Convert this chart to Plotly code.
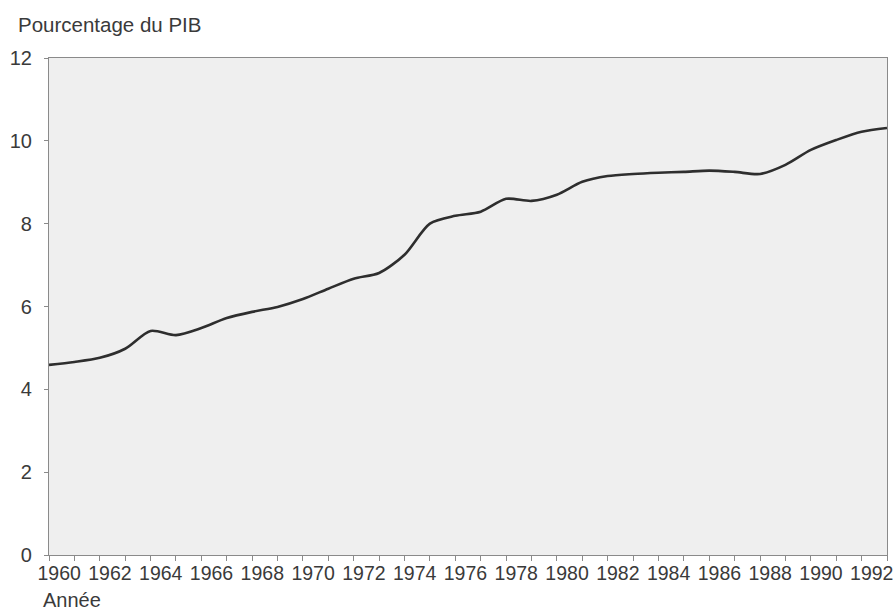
import plotly.graph_objects as go

years = list(range(1960, 1994))
pct_pib = [4.59, 4.66, 4.76, 4.98, 5.41, 5.31, 5.48, 5.72, 5.87, 5.99,
           6.18, 6.43, 6.67, 6.81, 7.25, 8.00, 8.19, 8.29, 8.60, 8.55,
           8.70, 9.01, 9.15, 9.20, 9.23, 9.25, 9.28, 9.25, 9.20, 9.42,
           9.78, 10.02, 10.22, 10.31]
label_years = list(range(1960, 1993, 2))
y_ticks = [0, 2, 4, 6, 8, 10, 12]

font_family = "Liberation Sans, Arial, sans-serif"
text_color = "#3a3a3a"

fig = go.Figure()
fig.add_trace(go.Scatter(
    x=years, y=pct_pib, mode="lines",
    line=dict(color="#2e2e2e", width=2.6, shape="spline", smoothing=0.8),
    hoverinfo="x+y", showlegend=False,
))

fig.update_layout(
    width=896, height=610,
    margin=dict(l=49, r=9, t=58, b=55),
    paper_bgcolor="white",
    plot_bgcolor="#efefef",
    font=dict(family=font_family, color=text_color, size=20),
    xaxis=dict(
        range=[1960, 1993],
        automargin=False,
        tickvals=[y + 0.40 for y in label_years],
        ticktext=[str(y) for y in label_years],
        ticks="", showgrid=False, zeroline=False,
        showline=True, linecolor="#8a8a8a", linewidth=1.2, mirror=True,
        tickfont=dict(size=19.5, color=text_color),
        minor=dict(tick0=1960, dtick=1, ticks="outside", ticklen=5,
                   tickcolor="#8a8a8a", showgrid=False),
    ),
    yaxis=dict(
        range=[0, 12],
        automargin=False,
        tickvals=y_ticks,
        ticks="outside", ticklen=4, tickcolor="#8a8a8a",
        ticklabelstandoff=8,
        showgrid=False, zeroline=False,
        showline=True, linecolor="#8a8a8a", linewidth=1.2, mirror=True,
        tickfont=dict(size=20, color=text_color),
    ),
    annotations=[
        dict(text="Pourcentage du PIB", xref="paper", yref="paper",
             x=0, y=1.0, xshift=-33, yshift=34, xanchor="left", yanchor="middle",
             showarrow=False, font=dict(size=20.5, color=text_color)),
        dict(text="Année", xref="paper", yref="paper",
             x=0, y=0, xshift=-8, yshift=-45, xanchor="left", yanchor="middle",
             showarrow=False, font=dict(size=20, color=text_color)),
    ],
)

fig.write_html(
    "out.html",
    config={"displayModeBar": False},
    post_script="document.body.style.margin='0';document.body.style.overflow='hidden';",
)
